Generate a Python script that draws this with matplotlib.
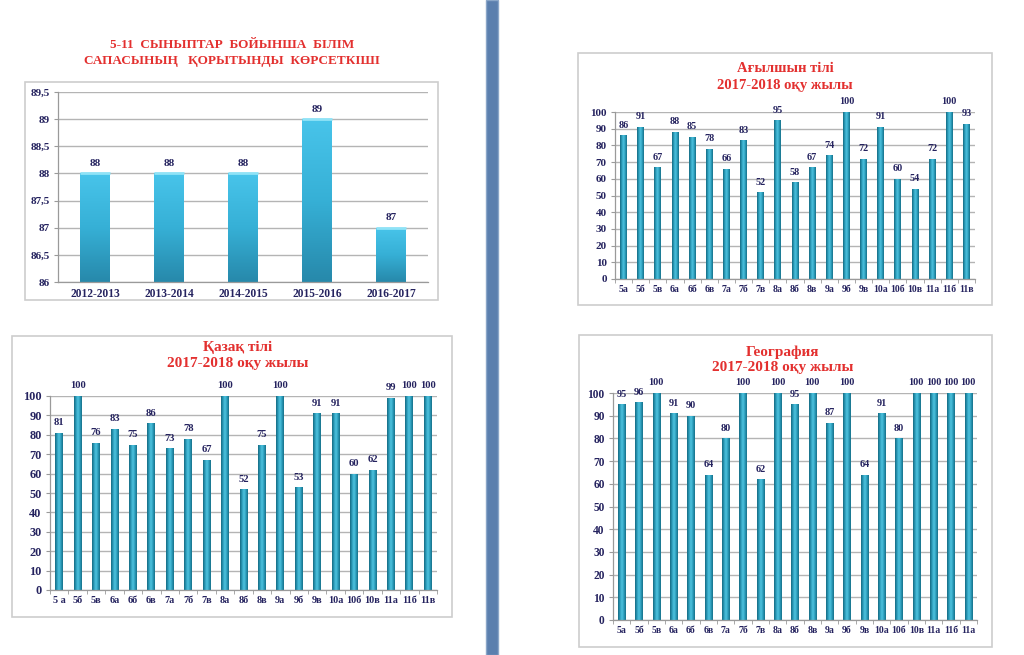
"""Төрт диаграмма: білім сапасы (5-11 сыныптар) және пәндер бойынша 2017-2018 оқу жылы."""

import numpy as np
import matplotlib
matplotlib.use("Agg")
import matplotlib.pyplot as plt
from matplotlib.colors import LinearSegmentedColormap
from matplotlib.patches import Rectangle

W, H = 1024, 655

# --- деректер ---
YEARS = ["2012-2013", "2013-2014", "2014-2015", "2015-2016", "2016-2017"]
QUALITY = [88, 88, 88, 89, 87]
QUALITY_TICKS = [86, 86.5, 87, 87.5, 88, 88.5, 89, 89.5]
QUALITY_TICK_LABELS = ["86", "86,5", "87", "87,5", "88", "88,5", "89", "89,5"]

CLASSES = ["5а", "5б", "5в", "6а", "6б", "6в", "7а", "7б", "7в", "8а", "8б",
           "8в", "9а", "9б", "9в", "10а", "10б", "10в", "11а", "11б", "11в"]
CLASSES_KAZ = ["5 а"] + CLASSES[1:]
CLASSES_GEO = CLASSES[:-1] + ["11а"]

ENGLISH = [86, 91, 67, 88, 85, 78, 66, 83, 52, 95, 58, 67, 74, 100, 72, 91, 60, 54, 72, 100, 93]
KAZAKH = [81, 100, 76, 83, 75, 86, 73, 78, 67, 100, 52, 75, 100, 53, 91, 91, 60, 62, 99, 100, 100]
GEOGRAPHY = [95, 96, 100, 91, 90, 64, 80, 100, 62, 100, 95, 100, 87, 100, 64, 91, 80, 100, 100, 100, 100]

TITLE_MAIN = ["5-11  СЫНЫПТАР  БОЙЫНША  БІЛІМ", "САПАСЫНЫҢ   ҚОРЫТЫНДЫ  КӨРСЕТКІШІ"]
TITLE_ENG = ["Ағылшын тілі", "2017-2018 оқу жылы"]
TITLE_KAZ = ["Қазақ тілі", "2017-2018 оқу жылы"]
TITLE_GEO = ["География", "2017-2018 оқу жылы"]

SERIF = ["Liberation Serif", "DejaVu Serif"]
NAVY = "#25235f"
RED = "#e3302f"
GRID = "#b4b4b4"

CYL = LinearSegmentedColormap.from_list("cyl", ["#14667d", "#2a9cba", "#52c6e2", "#2b9ebd", "#166c84"])
BOX = LinearSegmentedColormap.from_list("box", ["#2789ab", "#36b0d6", "#48c4ea"])


def px(x, y):
    return x / W, 1 - y / H


def ax_rect(left, top, right, bottom):
    return [left / W, 1 - bottom / H, (right - left) / W, (bottom - top) / H]


def shade(ax, bars, cmap, vertical=False):
    xl, yl = ax.get_xlim(), ax.get_ylim()
    if vertical:
        grad = np.linspace(1, 0, 64).reshape(-1, 1)
    else:
        grad = np.linspace(0, 1, 64).reshape(1, -1)
    for b in bars:
        x, y = b.get_xy()
        im = ax.imshow(grad, extent=[x, x + b.get_width(), y, y + b.get_height()],
                       aspect="auto", cmap=cmap, zorder=b.get_zorder() + 0.1,
                       interpolation="bicubic")
        im.set_clip_path(b)
    ax.set_xlim(xl)
    ax.set_ylim(yl)


def style_axes(ax, ysize, xsize):
    for s in ("top", "right"):
        ax.spines[s].set_visible(False)
    for s in ("left", "bottom"):
        ax.spines[s].set_color("#9a9a9a")
        ax.spines[s].set_linewidth(0.9)
    ax.yaxis.grid(True, color=GRID, linewidth=1.0)
    ax.set_axisbelow(True)
    ax.tick_params(axis="y", length=3, color="#9a9a9a", pad=3)
    ax.tick_params(axis="x", length=0, pad=4)
    for t in ax.get_yticklabels():
        t.set_fontfamily(SERIF)
        t.set_fontweight("bold")
        t.set_fontsize(ysize)
        t.set_color(NAVY)
    for t in ax.get_xticklabels():
        t.set_fontfamily(SERIF)
        t.set_fontweight("bold")
        t.set_fontsize(xsize)
        t.set_color(NAVY)


def class_chart(fig, rect, labels, values, bar_w, ysize, xsize, vsize):
    ax = fig.add_axes(rect)
    x = np.arange(len(values))
    bars = ax.bar(x, values, width=bar_w, color="#2a9cba", zorder=2)
    ax.set_xlim(-0.5, len(values) - 0.5)
    ax.set_ylim(0, 100)
    ax.set_yticks(range(0, 101, 10))
    ax.set_xticks(x)
    ax.set_xticklabels(labels)
    # категориялар арасындағы кішкене белгілер
    ax.set_xticks(np.arange(-0.5, len(values), 1), minor=True)
    ax.tick_params(axis="x", which="minor", length=3, color="#9a9a9a")
    style_axes(ax, ysize, xsize)
    shade(ax, bars, CYL)
    for xi, v in zip(x, values):
        ax.annotate(str(v), (xi, v), xytext=(0, 4), textcoords="offset points",
                    ha="center", va="bottom", fontsize=vsize, fontweight="bold",
                    color=NAVY, family=SERIF, zorder=5)
    return ax


def title(fig, cx, y1, y2, lines, size):
    fig.text(*px(cx, y1), lines[0], ha="center", va="center", fontsize=size,
             fontweight="bold", color=RED, family=SERIF)
    fig.text(*px(cx, y2), lines[1], ha="center", va="center", fontsize=size,
             fontweight="bold", color=RED, family=SERIF)


def frame(fig, left, top, right, bottom):
    fig.patches.append(Rectangle(px(left, bottom), (right - left) / W, (bottom - top) / H,
                                 transform=fig.transFigure, fill=False,
                                 edgecolor="#cdcdcd", linewidth=1.2, zorder=0))


fig = plt.figure(figsize=(W / 100, H / 100), dpi=100)
fig.patch.set_facecolor("white")

# ортадағы көк бөлгіш
fig.patches.append(Rectangle(px(486, 655), 12 / W, 1, transform=fig.transFigure,
                             facecolor="#5b7fae", edgecolor="#8aa6c8", linewidth=1, zorder=0))

frame(fig, 25, 82, 438, 300)
frame(fig, 578, 53, 992, 305)
frame(fig, 12, 336, 452, 617)
frame(fig, 579, 335, 992, 647)

# 1) білім сапасы
ax1 = fig.add_axes(ax_rect(58, 92, 428, 282))
xq = np.arange(len(QUALITY))
lo = QUALITY_TICKS[0]
bars1 = ax1.bar(xq, [v - lo for v in QUALITY], bottom=lo, width=0.4, color="#36b0d6", zorder=2)
ax1.set_xlim(-0.5, len(QUALITY) - 0.5)
ax1.set_ylim(lo, QUALITY_TICKS[-1])
ax1.set_yticks(QUALITY_TICKS)
ax1.set_yticklabels(QUALITY_TICK_LABELS)
ax1.set_xticks(xq)
ax1.set_xticklabels(YEARS)
style_axes(ax1, 8, 8.3)
shade(ax1, bars1, BOX, vertical=True)
for b in bars1:
    ax1.plot([b.get_x(), b.get_x() + b.get_width()], [b.get_y() + b.get_height()] * 2,
             color="#8fe3f7", linewidth=2, zorder=3, solid_capstyle="butt")
for xi, v in zip(xq, QUALITY):
    ax1.annotate(str(v), (xi, v), xytext=(0, 4), textcoords="offset points",
                 ha="center", va="bottom", fontsize=8, fontweight="bold",
                 color=NAVY, family=SERIF)
title(fig, 232, 45, 61, TITLE_MAIN, 9.5)

# 2) ағылшын тілі
class_chart(fig, ax_rect(615, 112, 975, 279), CLASSES, ENGLISH, 0.4, 8, 7, 7.3)
title(fig, 785, 69, 86, TITLE_ENG, 10.5)

# 3) қазақ тілі
class_chart(fig, ax_rect(50, 396, 437, 590), CLASSES_KAZ, KAZAKH, 0.42, 8.8, 7.3, 7.6)
title(fig, 238, 347, 363, TITLE_KAZ, 11)

# 4) география
class_chart(fig, ax_rect(613, 393, 977, 620), CLASSES_GEO, GEOGRAPHY, 0.42, 8.3, 7, 7.4)
title(fig, 783, 352, 368, TITLE_GEO, 11)

fig.savefig("out.png", dpi=100)
